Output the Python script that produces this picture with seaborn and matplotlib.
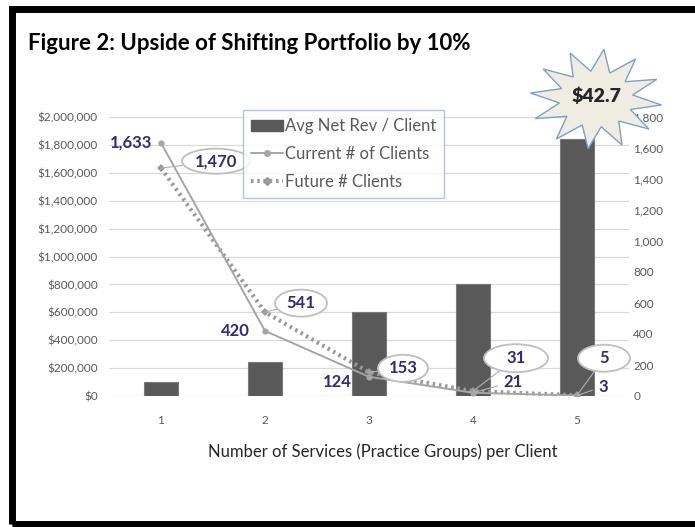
import numpy as np
import pandas as pd
import seaborn as sns
import matplotlib.pyplot as plt
from matplotlib.patches import Polygon, Rectangle, Ellipse
from matplotlib.lines import Line2D
from matplotlib.transforms import IdentityTransform
from matplotlib.ticker import FuncFormatter, MultipleLocator

services = ['1', '2', '3', '4', '5']
avg_net_rev = [100000, 245000, 600000, 800000, 1840000]
current_clients = [1633, 420, 124, 21, 3]
future_clients = [1470, 541, 153, 31, 5]

sns.set_theme(style='white')
plt.rcParams['font.family'] = ['Lato', 'DejaVu Sans']

W, H = 695, 527
fig = plt.figure(figsize=(W / 100, H / 100), dpi=100)
ax = fig.add_axes([109 / W, 1 - 396 / H, 520 / W, 279 / H])

df = pd.DataFrame({'services': services, 'rev': avg_net_rev,
                   'pos': np.arange(len(services)),
                   'current': current_clients, 'future': future_clients})

sns.barplot(data=df, x='services', y='rev', color='#595959', width=0.32,
            saturation=1, edgecolor='#7a7a7a', linewidth=0.8, ax=ax, zorder=2)
ax.set_ylim(0, 2000000)
ax.set_xlim(-0.5, 4.5)
ax.yaxis.set_major_locator(MultipleLocator(200000))
ax.yaxis.set_major_formatter(FuncFormatter(lambda v, p: '${:,.0f}'.format(v)))
ax.grid(axis='y', color='#d9d9d9', lw=0.9, zorder=0)
ax.set_axisbelow(True)
for s in ax.spines.values():
    s.set_visible(False)
ax.tick_params(axis='y', colors='#595959', labelsize=8.5, length=0, pad=8)
ax.tick_params(axis='x', colors='#595959', labelsize=8.5, length=0, pad=14)
ax.set_xlabel('Number of Services (Practice Groups) per Client', fontsize=12,
              color='#262626')
ax.xaxis.set_label_coords(0.527, -0.17)
ax.set_ylabel('')

ax2 = ax.twinx()
sns.lineplot(data=df, x='pos', y='future', ax=ax2, color='#9a9a9a', lw=3,
             linestyle=(0, (0.6, 0.9)), marker='D', markersize=4,
             markeredgewidth=0, zorder=3)
sns.lineplot(data=df, x='pos', y='current', ax=ax2, color='#a5a5a5', lw=1.4,
             marker='o', markersize=4.5, markeredgewidth=0, zorder=4)
ax2.set_ylim(0, 1800)
ax2.set_xlim(-0.5, 4.5)
ax2.yaxis.set_major_locator(MultipleLocator(200))
ax2.yaxis.set_major_formatter(FuncFormatter(lambda v, p: '{:,.0f}'.format(v)))
ax2.tick_params(axis='y', colors='#595959', labelsize=8.5, length=0, pad=3)
ax2.set_ylabel('')
for s in ax2.spines.values():
    s.set_visible(False)

navy = '#33297a'
lead_c = '#b0b0b0'
cur_off = [(-30, 0), (-30, 0), (-32, -5), (40, 11), (26, 9)]
fut_off = [(55, 7), (36, 9), (34, 4), (43, 33), (27, 37)]
fut_ell = [(68, 25), (52, 27), (50, 27), (64, 28), (52, 27)]
for i in range(len(services)):
    lead = i >= 3
    ax2.annotate('{:,}'.format(current_clients[i]), (i, current_clients[i]),
                 xytext=cur_off[i], textcoords='offset pixels',
                 ha='center', va='center', fontsize=12, fontweight='bold', color=navy,
                 arrowprops=dict(arrowstyle='-', color=lead_c, lw=0.8,
                                 shrinkA=2, shrinkB=1) if lead else None,
                 zorder=6)
    # future label: ellipse callout with leader line
    px, py = ax2.transData.transform((i, future_clients[i]))
    cx, cy = px + fut_off[i][0], py + fut_off[i][1]
    ew, eh = fut_ell[i]
    dx, dy = px - cx, py - cy
    d = np.hypot(dx, dy)
    ux, uy = dx / d, dy / d
    r = 1 / np.sqrt((ux / (ew / 2)) ** 2 + (uy / (eh / 2)) ** 2)
    ax2.add_line(Line2D([cx + ux * r, px], [cy + uy * r, py], color=lead_c, lw=0.8,
                        transform=IdentityTransform(), clip_on=False, zorder=5))
    ax2.add_patch(Ellipse((cx, cy), ew, eh, fc='white', ec='#bfbfbf', lw=1.3,
                          transform=IdentityTransform(), clip_on=False, zorder=5))
    ax2.text(cx, cy, '{:,}'.format(future_clients[i]), transform=IdentityTransform(),
             ha='center', va='center', fontsize=12, fontweight='bold', color=navy,
             zorder=6)

handles = [Rectangle((0, 0), 1, 1, fc='#595959', ec='#595959'),
           Line2D([], [], color='#a5a5a5', lw=1.4, marker='o', markersize=4),
           Line2D([], [], color='#9a9a9a', lw=3, linestyle=(0, (0.6, 0.9)),
                  marker='D', markersize=4)]
leg = fig.legend(handles, ['Avg Net Rev / Client', 'Current # of Clients', 'Future # Clients'],
                 loc='upper left', bbox_to_anchor=(243 / W, 1 - 110 / H),
                 fontsize=12, frameon=True, fancybox=False, handlelength=1.9,
                 handletextpad=0.1, labelspacing=0.7, borderpad=0.5,
                 borderaxespad=0)
leg.get_frame().set_edgecolor('#9db7dc')
leg.get_frame().set_linewidth(1)
for t in leg.get_texts():
    t.set_color('#595959')

fig.text(28 / W, 1 - 44 / H, 'Figure 2: Upside of Shifting Portfolio by 10%',
         fontsize=16, fontweight='bold', color='black', va='center', ha='left')

# starburst callout
sx, sy, rx, ry = 596, 99, 66, 50
ang = np.linspace(0, 2 * np.pi, 25)[:-1] + 0.12
rad = np.where(np.arange(24) % 2 == 0, 1.0, 0.56)
spx = sx + rx * rad * np.cos(ang)
spy = sy + ry * rad * np.sin(ang)
star = Polygon(np.column_stack([spx / W, 1 - spy / H]), closed=True,
               transform=fig.transFigure, fc='#efede2', ec='#7f9fcc', lw=1, zorder=10)
fig.patches.append(star)
fig.text(sx / W, 1 - (sy - 3) / H, '$42.7', fontsize=14, fontweight='heavy',
         ha='center', va='center', zorder=11)

# black frame
fig.patches.append(Rectangle((11.5 / W, 1 - 523.5 / H), (696 - 11.5) / W, (523.5 - 8.5) / H,
                             transform=fig.transFigure, fill=False, ec='black', lw=5))

fig.savefig('out.png', dpi=100)
